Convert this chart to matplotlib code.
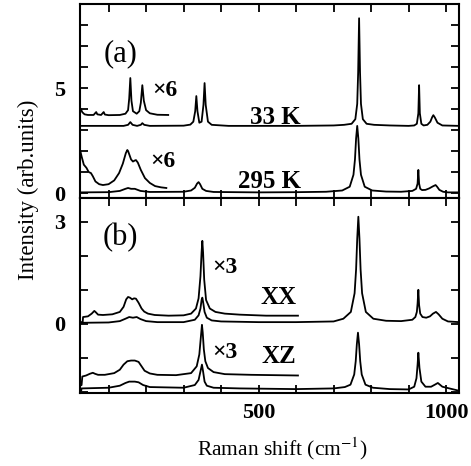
"""Raman spectra, two panels: (a) temperature, (b) polarisation"""
import matplotlib
matplotlib.use("Agg")
import matplotlib.pyplot as plt

plt.rcParams['font.family'] = ['Liberation Serif', 'DejaVu Serif']
plt.rcParams['mathtext.fontset'] = 'stix'

# ---- panel (a): 33 K -------------------------------------------------------
k33_x = [24, 140, 152, 158, 164, 176, 186, 190, 195, 210, 300, 318, 326, 331, 334, 337,
         342, 348, 353, 356, 359, 365, 375, 420, 600, 700, 728, 748, 758, 763, 765.5, 768,
         770.5, 773, 778, 788, 808, 850, 900, 915, 922, 926, 928, 930, 934, 940, 950, 958,
         963, 966, 970, 977, 990, 1035]
k33_y = [3.2, 3.2, 3.25, 3.38, 3.25, 3.2, 3.25, 3.33, 3.25, 3.2, 3.21, 3.26, 3.4, 3.9, 4.62, 3.9,
         3.35, 3.4, 4.2, 5.24, 4.2, 3.4, 3.25, 3.2, 3.2, 3.22, 3.25, 3.3, 3.52, 4.25, 5.75, 8.33,
         5.75, 4.25, 3.52, 3.3, 3.25, 3.22, 3.2, 3.22, 3.3, 3.8, 5.14, 3.8, 3.3, 3.22, 3.25, 3.4,
         3.62, 3.71, 3.6, 3.35, 3.22, 3.2]

k33_x6 = [24, 26, 30, 36, 45, 60, 64, 67, 70, 80, 84, 87, 90, 100, 130, 145, 152, 155, 158,
          161, 165, 175, 182, 186, 190, 194, 200, 210, 230, 259]
k33_y6 = [4.05, 4.0, 3.85, 3.75, 3.72, 3.72, 3.8, 3.86, 3.75, 3.72, 3.8, 3.86, 3.74, 3.71, 3.72,
          3.78, 3.95, 4.5, 5.48, 4.4, 3.9, 3.78, 3.9, 4.3, 5.14, 4.4, 3.95, 3.8, 3.73, 3.72]

# ---- panel (a): 295 K ------------------------------------------------------
k295_x = [24, 100, 130, 145, 152, 160, 170, 185, 210, 300, 320, 330, 336, 340, 344, 350, 360,
          380, 500, 600, 680, 723, 743, 753, 757, 760, 763, 766, 769, 773, 783, 803, 840, 880,
          910, 920, 924, 926, 928, 931, 936, 945, 955, 965, 972, 976, 982, 992, 1005, 1035]
k295_y = [0.03, 0.04, 0.1, 0.2, 0.24, 0.2, 0.2, 0.1, 0.05, 0.06, 0.12, 0.25, 0.45, 0.52, 0.42,
          0.2, 0.1, 0.05, 0.03, 0.04, 0.06, 0.12, 0.3, 0.87, 1.6, 2.6, 3.2, 2.6, 1.6, 0.87, 0.3,
          0.12, 0.07, 0.06, 0.1, 0.2, 0.45, 1.1, 0.45, 0.2, 0.14, 0.15, 0.22, 0.32, 0.38, 0.3,
          0.15, 0.06, 0.03, 0.03]

k295_x6 = [24, 28, 34, 41, 47, 53, 58, 65, 75, 85, 100, 115, 128, 138, 146, 150, 152, 155, 160,
           165, 170, 173, 178, 186, 197, 210, 224, 240, 254]
k295_y6 = [2.05, 1.75, 1.35, 1.2, 1.0, 0.95, 0.8, 0.55, 0.42, 0.38, 0.42, 0.6, 0.95, 1.4, 1.9,
           2.05, 2.0, 1.85, 1.6, 1.5, 1.55, 1.57, 1.45, 1.1, 0.71, 0.48, 0.33, 0.27, 0.24]

# ---- panel (b): XX ---------------------------------------------------------
xx_x = [24, 100, 130, 145, 155, 165, 175, 185, 200, 230, 300, 330, 340, 345, 348, 350, 352,
        356, 362, 375, 400, 500, 600, 700, 726, 746, 756, 760, 763, 766, 769, 772, 776, 786,
        806, 840, 880, 910, 918, 922, 924, 926, 928, 931, 937, 947, 957, 965, 973, 980, 990,
        1005, 1035]
xx_y = [0.03, 0.04, 0.08, 0.15, 0.2, 0.18, 0.2, 0.14, 0.08, 0.05, 0.05, 0.12, 0.25, 0.45, 0.7,
        0.77, 0.65, 0.35, 0.18, 0.1, 0.07, 0.05, 0.05, 0.07, 0.15, 0.35, 0.9, 1.6, 2.5, 3.15,
        2.5, 1.6, 0.9, 0.35, 0.15, 0.09, 0.08, 0.12, 0.2, 0.35, 0.6, 1.0, 0.55, 0.3, 0.2, 0.18,
        0.22, 0.3, 0.35, 0.28, 0.15, 0.07, 0.05]

xx_x3 = [27, 31, 32, 45, 55, 62, 66, 72, 85, 110, 130, 140, 147, 152, 157, 163, 168, 173, 180,
         188, 195, 205, 223, 260, 300, 320, 333, 340, 345, 348, 350, 352, 355, 360, 370, 385,
         410, 450, 520, 605]
xx_y3 = [0.05, 0.05, 0.2, 0.22, 0.3, 0.38, 0.34, 0.27, 0.26, 0.28, 0.35, 0.5, 0.72, 0.79, 0.77,
         0.72, 0.75, 0.74, 0.62, 0.45, 0.36, 0.3, 0.26, 0.24, 0.25, 0.3, 0.45, 0.75, 1.4, 2.1,
         2.44, 2.1, 1.3, 0.7, 0.45, 0.35, 0.3, 0.27, 0.24, 0.24]

# ---- panel (b): XZ ---------------------------------------------------------
xz_x = [24, 27, 28, 100, 130, 145, 155, 170, 180, 192, 210, 300, 330, 340, 345, 349, 352, 356,
        362, 380, 450, 600, 700, 730, 745, 755, 759, 762, 765, 768, 771, 775, 785, 805, 850,
        900, 915, 921, 924, 926, 929, 934, 945, 960, 970, 978, 990, 1035]
xz_y = [-1.97, -1.97, -1.9, -1.88, -1.82, -1.74, -1.7, -1.7, -1.72, -1.8, -1.86, -1.88, -1.8,
        -1.65, -1.4, -1.2, -1.4, -1.7, -1.82, -1.88, -1.9, -1.92, -1.9, -1.86, -1.79, -1.49,
        -1.1, -0.6, -0.26, -0.6, -1.1, -1.49, -1.79, -1.88, -1.92, -1.93, -1.85, -1.6, -1.2,
        -0.85, -1.3, -1.7, -1.85, -1.85, -1.79, -1.74, -1.85, -1.97]

xz_x3 = [24, 28, 30, 40, 50, 58, 64, 72, 90, 115, 130, 140, 150, 160, 170, 180, 188, 196, 210,
         230, 280, 320, 335, 342, 346, 349, 351, 354, 358, 365, 380, 410, 480, 605]
xz_y3 = [-1.82, -1.8, -1.55, -1.52, -1.47, -1.44, -1.47, -1.5, -1.5, -1.45, -1.35, -1.2, -1.1,
         -1.08, -1.08, -1.12, -1.25, -1.38, -1.46, -1.5, -1.51, -1.45, -1.25, -0.9, -0.4, -0.03,
         -0.25, -0.75, -1.1, -1.3, -1.42, -1.48, -1.5, -1.52]

LW = 1.3
MULT = dict(fontsize=17, fontweight='bold', ha='center', va='center')
TAG = dict(fontsize=18, fontweight='bold', ha='right', va='center')

fig = plt.figure(figsize=(4.71, 4.66), dpi=100)
ax1 = fig.add_axes([0.170, 0.575, 0.805, 0.416])
ax2 = fig.add_axes([0.170, 0.157, 0.805, 0.418], sharex=ax1)

for xs, ys in [(k33_x, k33_y), (k33_x6, k33_y6), (k295_x, k295_y), (k295_x6, k295_y6)]:
    ax1.plot(xs, ys, color='k', lw=LW)
for xs, ys in [(xx_x, xx_y), (xx_x3, xx_y3), (xz_x, xz_y), (xz_x3, xz_y3)]:
    ax2.plot(xs, ys, color='k', lw=LW)

ax1.set_xlim(24, 1035)
ax1.set_ylim(-0.24, 9.0)
ax2.set_ylim(-2.03, 3.7)

ax1.set_yticks(range(0, 9))
ax1.set_yticklabels(['0', '', '', '', '', '5', '', '', ''])
ax2.set_yticks(range(-2, 4))
ax2.set_yticklabels(['', '', '0', '', '', '3'])
ax1.set_xticks(range(100, 1001, 100))
ax1.tick_params(labelbottom=False)
ax2.set_xticklabels(['', '', '', '', '500', '', '', '', '', '1000'])

for ax in (ax1, ax2):
    for s in ax.spines.values():
        s.set_linewidth(1.5)
    ax.tick_params(direction='in', top=True, right=True, length=6, width=1.3,
                   labelsize=16)
    ax.tick_params(axis='y', pad=11)
    ax.tick_params(axis='x', pad=7)
    for lab in ax.get_xticklabels() + ax.get_yticklabels():
        lab.set_fontweight('bold')

ax1.text(131, 6.65, '(a)', fontsize=22, ha='center', va='center')
ax1.text(251, 4.9, '×6', **MULT)
ax1.text(246, 1.48, '×6', **MULT)
ax1.text(613, 3.62, '33 K', **TAG)
ax1.text(613, 0.55, '295 K', **TAG)

ax2.text(131, 2.55, '(b)', fontsize=22, ha='center', va='center')
ax2.text(411, 1.65, '×3', **MULT)
ax2.text(411, -0.85, '×3', **MULT)
ax2.text(600, 0.78, 'XX', **TAG)
ax2.text(600, -0.95, 'XZ', **TAG)

fig.text(0.060, 0.592, 'Intensity (arb.units)', rotation=90, fontsize=16.5,
         ha='center', va='center')
fig.text(0.600, 0.036, 'Raman shift (cm$^{-1}$)', fontsize=15.5, ha='center', va='center')

fig.savefig('out.png', dpi=100)
